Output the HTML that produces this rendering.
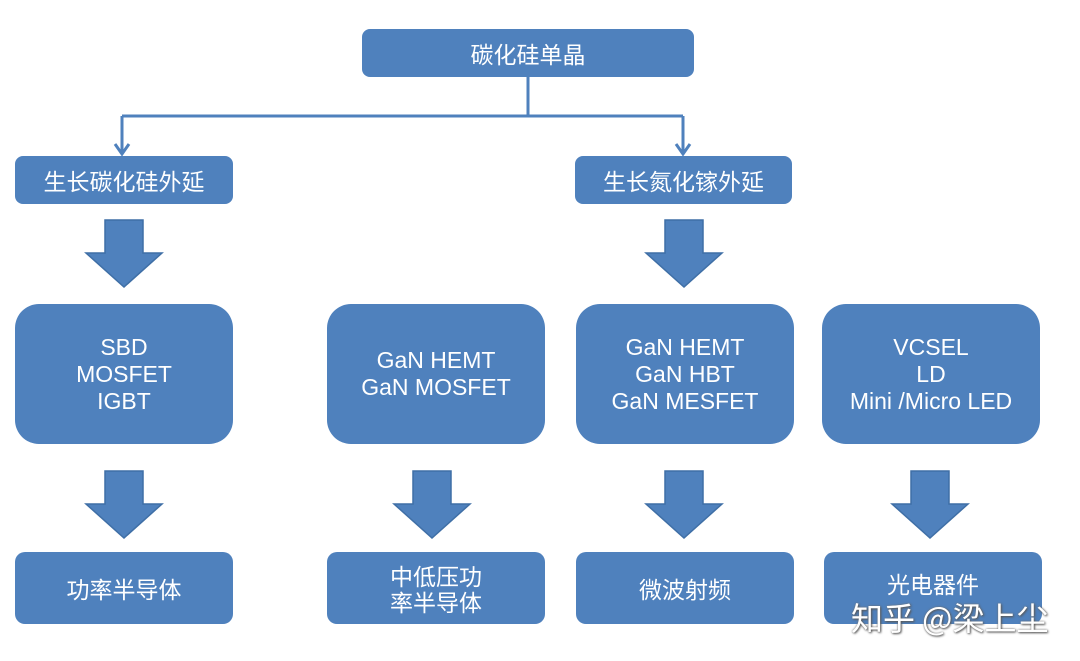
<!DOCTYPE html>
<html><head><meta charset="utf-8"><style>
body{margin:0;width:1080px;height:661px;background:#fff;position:relative;overflow:hidden;font-family:"Liberation Sans","Noto Sans CJK SC",sans-serif;}
.b{position:absolute;background:#4f81bd;color:#fff;display:flex;align-items:center;justify-content:center;text-align:center;font-size:23px;line-height:27px;}
.c{font-family:"Noto Sans CJK SC",sans-serif;font-size:23px}
svg{position:absolute;left:0;top:0}
.wm{position:absolute;left:851px;top:594px;font-size:32px;color:#fff;text-shadow:1px 1px 2px #555,0 0 2px #777;font-family:"Noto Sans CJK SC",sans-serif;white-space:nowrap}
</style></head><body>
<svg width="1080" height="661">
<g stroke="#4f81bd" stroke-width="3" fill="none">
<path d="M528 77V116M122 116H683M122 116V152M683 116V152"/>
<path d="M115 144l7 10 7-10M676 144l7 10 7-10"/>
</g>
<g fill="#4f81bd" stroke="#3f6fa6" stroke-width="1.5">
<path d="M105 220h38v33h19l-38 34-38-34h19z"/>
<path d="M665 220h38v33h19l-38 34-38-34h19z"/>
<path d="M105 471h38v33h19l-38 34-38-34h19z"/>
<path d="M413 471h38v33h19l-38 34-38-34h19z"/>
<path d="M665 471h38v33h19l-38 34-38-34h19z"/>
<path d="M911 471h38v33h19l-38 34-38-34h19z"/>
</g>
</svg>
<div class="b c" style="left:362px;top:29px;width:332px;height:48px;border-radius:8px">碳化硅单晶</div>
<div class="b c" style="left:15px;top:156px;width:218px;height:48px;border-radius:8px">生长碳化硅外延</div>
<div class="b c" style="left:575px;top:156px;width:217px;height:48px;border-radius:8px">生长氮化镓外延</div>
<div class="b" style="left:15px;top:304px;width:218px;height:140px;border-radius:24px">SBD<br>MOSFET<br>IGBT</div>
<div class="b" style="left:327px;top:304px;width:218px;height:140px;border-radius:24px">GaN HEMT<br>GaN MOSFET</div>
<div class="b" style="left:576px;top:304px;width:218px;height:140px;border-radius:24px">GaN HEMT<br>GaN HBT<br>GaN MESFET</div>
<div class="b" style="left:822px;top:304px;width:218px;height:140px;border-radius:24px">VCSEL<br>LD<br>Mini /Micro LED</div>
<div class="b c" style="left:15px;top:552px;width:218px;height:72px;border-radius:10px">功率半导体</div>
<div class="b c" style="left:327px;top:552px;width:218px;height:72px;border-radius:10px;line-height:26px">中低压功<br>率半导体</div>
<div class="b c" style="left:576px;top:552px;width:218px;height:72px;border-radius:10px">微波射频</div>
<div class="b c" style="left:824px;top:552px;width:218px;height:72px;border-radius:10px;align-items:flex-start;padding-top:18px;box-sizing:border-box">光电器件</div>
<div class="wm">知乎 @梁上尘</div>
</body></html>
